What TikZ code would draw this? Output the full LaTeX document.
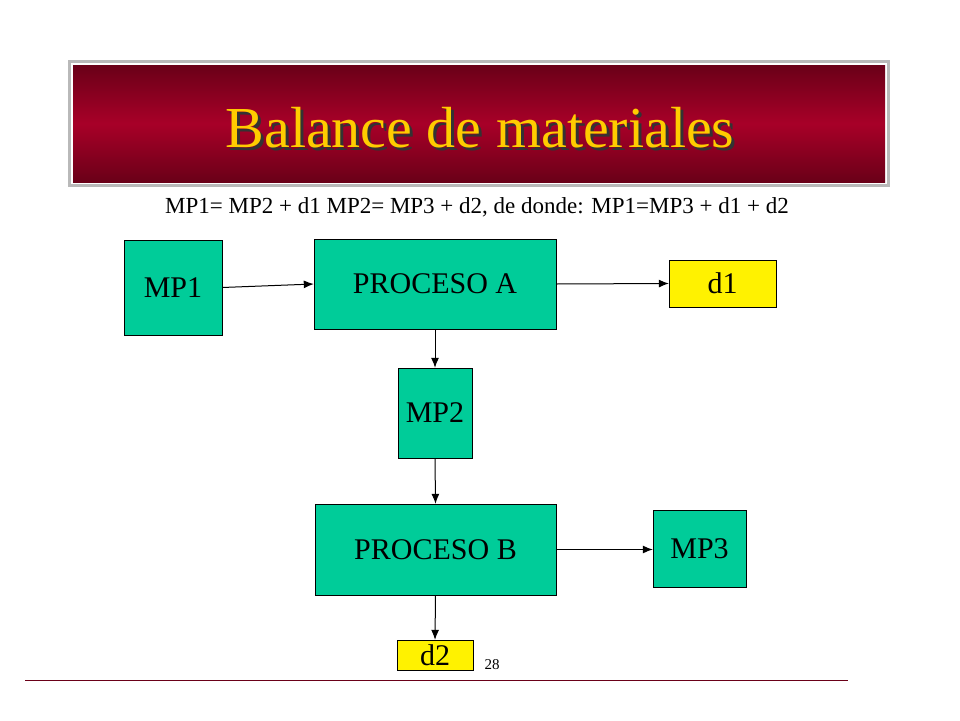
\documentclass[tikz,border=0pt]{standalone}
\usepackage{fontspec}
\setmainfont{Liberation Serif}
\usetikzlibrary{arrows.meta}
\begin{document}
\begin{tikzpicture}[x=1pt,y=-1pt,
  box/.style={draw=black,fill=boxgreen,inner sep=0pt,font=\fontsize{30}{32}\selectfont},
  ybox/.style={draw=black,fill=yellow,inner sep=0pt,font=\fontsize{30}{32}\selectfont},
  arr/.style={-{Latex[length=10pt,width=8pt]},line width=1pt}]
\definecolor{boxgreen}{HTML}{00CC99}
\definecolor{darkred}{HTML}{6A0018}
\definecolor{midred}{HTML}{A80028}
\definecolor{titley}{HTML}{FFCC00}
\useasboundingbox (0,0) rectangle (960,720);
\fill[gray!55] (68,60) rectangle (890,187);
\fill[white] (71,63) rectangle (887,184);
\shade[top color=darkred,bottom color=darkred,middle color=midred] (73,65) rectangle (885,182);
\node[text=black!80,font=\fontsize{58}{62}\selectfont] at (483,131) {Balance de materiales};
\node (title) [text=titley,font=\fontsize{58}{62}\selectfont] at (480,128) {Balance de materiales};
\node (eq) [font=\fontsize{23}{26}\selectfont] at (477,207) {MP1= MP2 + d1 MP2= MP3 + d2, de donde: MP1=MP3 + d1 + d2};
\node (mp1) [box,minimum width=98,minimum height=95] at (173,287.5) {MP1};
\node (pa) [box,minimum width=242,minimum height=90] at (435,284) {PROCESO A};
\node (d1) [ybox,minimum width=107,minimum height=47] at (722.5,283.5) {d1};
\node (mp2) [box,minimum width=74,minimum height=90] at (435,413) {MP2};
\node (pb) [box,minimum width=241,minimum height=91] at (435.5,549.5) {PROCESO B};
\node (mp3) [box,minimum width=93,minimum height=77] at (699.5,548.5) {MP3};
\node (d2) [ybox,minimum width=76,minimum height=30] at (435,655) {d2};
\node (pg) [font=\fontsize{15}{17}\selectfont] at (492,665) {28};
\draw[arr] (mp1.east) -- (pa.west);
\draw[arr] (pa.east) -- (d1.west);
\draw[arr] (pa.south) -- (mp2.north);
\draw[arr] (mp2.south) -- (pb.north);
\draw[arr] (pb.east) -- (pb.east -| mp3.west);
\draw[arr] (pb.south) -- (d2.north);
\draw[darkred,thin] (25,680) -- (848,680);
\end{tikzpicture}
\end{document}
